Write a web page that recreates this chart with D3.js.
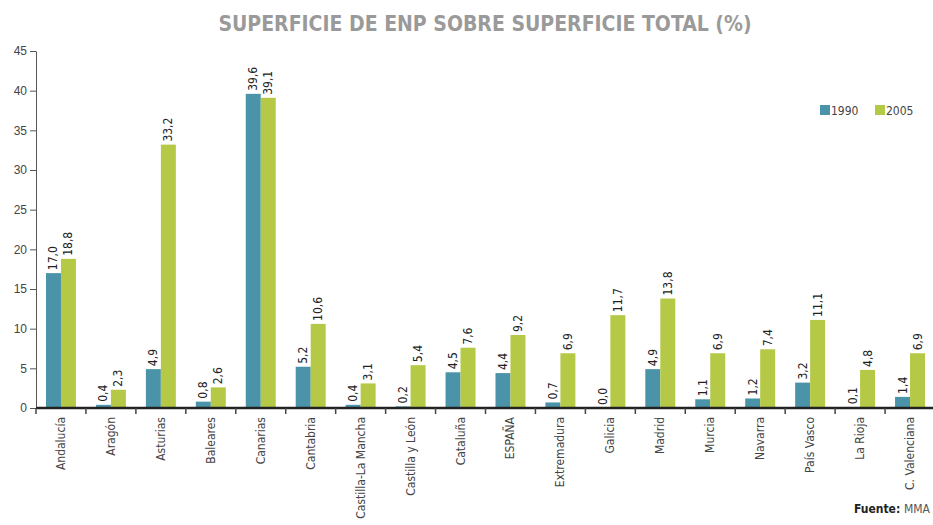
<!DOCTYPE html>
<html>
<head>
<meta charset="utf-8">
<script src="https://cdn.jsdelivr.net/npm/d3@7"></script>
<style>
  body { margin: 0; background: #fff; }
  svg { font-family: "DejaVu Sans Condensed", "Roboto", sans-serif; }
</style>
</head>
<body>
<div id="chart"></div>
<script>
const regions = ['Andalucía', 'Aragón', 'Asturias', 'Baleares', 'Canarias', 'Cantabria',
  'Castilla-La Mancha', 'Castilla y León', 'Cataluña', 'ESPAÑA', 'Extremadura', 'Galicia',
  'Madrid', 'Murcia', 'Navarra', 'País Vasco', 'La Rioja', 'C. Valenciana'];
const years = ['1990', '2005'];
const values1990 = [17.0, 0.4, 4.9, 0.8, 39.6, 5.2, 0.4, 0.2, 4.5, 4.4, 0.7, 0.0, 4.9, 1.1, 1.2, 3.2, 0.1, 1.4];
const values2005 = [18.8, 2.3, 33.2, 2.6, 39.1, 10.6, 3.1, 5.4, 7.6, 9.2, 6.9, 11.7, 13.8, 6.9, 7.4, 11.1, 4.8, 6.9];
const yTicks = [0, 5, 10, 15, 20, 25, 30, 35, 40, 45];
const colors = ['#4a93a8', '#b5c947'];

const width = 933, height = 525;
const margin = {top: 51, left: 36, right: -2, bottom: 117};

const svg = d3.select('#chart').append('svg')
  .attr('width', width)
  .attr('height', height);

const x = d3.scaleBand().domain(regions)
  .range([margin.left, width - margin.right])
  .paddingInner(0.4).paddingOuter(0.2);
const xSub = d3.scaleBand().domain(years).range([0, x.bandwidth()]);
const y = d3.scaleLinear().domain([0, 45]).range([height - margin.bottom, margin.top]);

const fmt = d => d.toFixed(1).replace('.', ',');

// title
svg.append('text')
  .attr('x', 485).attr('y', 31)
  .attr('text-anchor', 'middle')
  .attr('fill', '#9a9a9a')
  .style('font-size', '21px')
  .style('font-weight', 'bold')
  .text('SUPERFICIE DE ENP SOBRE SUPERFICIE TOTAL (%)');

// y axis
const yAxis = svg.append('g')
  .attr('transform', `translate(${margin.left},0)`)
  .call(d3.axisLeft(y).tickValues(yTicks).tickSize(6).tickSizeOuter(0));
yAxis.select('.domain').attr('stroke', '#555');
yAxis.selectAll('.tick line').attr('stroke', '#555');
yAxis.selectAll('.tick text').attr('fill', '#444').style('font-size', '12px').attr('x', -9);

// bars
const data = regions.map((r, i) => ({region: r, vals: [values1990[i], values2005[i]]}));
const groups = svg.append('g').selectAll('g').data(data).join('g')
  .attr('transform', d => `translate(${x(d.region)},0)`);

groups.selectAll('rect')
  .data(d => d.vals.map((v, j) => ({year: years[j], v, j})))
  .join('rect')
  .attr('x', d => xSub(d.year))
  .attr('y', d => y(d.v))
  .attr('width', xSub.bandwidth())
  .attr('height', d => y(0) - y(d.v))
  .attr('fill', d => colors[d.j]);

groups.selectAll('text')
  .data(d => d.vals.map((v, j) => ({year: years[j], v, j})))
  .join('text')
  .attr('transform', d => `translate(${xSub(d.year) + xSub.bandwidth() / 2 + 4},${y(d.v) - 3}) rotate(-90)`)
  .attr('fill', '#222')
  .style('font-size', '12px')
  .text(d => fmt(d.v));

// x axis
const xAxis = svg.append('g')
  .attr('transform', `translate(0,${y(0)})`);
xAxis.append('line')
  .attr('x1', margin.left).attr('x2', width)
  .attr('stroke', '#222').attr('stroke-width', 2.5);
const step = x.step();
xAxis.selectAll('.sep').data(regions).join('line')
  .attr('class', 'sep')
  .attr('x1', (d, i) => margin.left + i * step)
  .attr('x2', (d, i) => margin.left + i * step)
  .attr('y1', 0).attr('y2', 6)
  .attr('stroke', '#444').attr('stroke-width', 1.5);
xAxis.selectAll('.lab').data(regions).join('text')
  .attr('class', 'lab')
  .attr('transform', d => `translate(${x(d) + x.bandwidth() / 2 + 4},9) rotate(-90)`)
  .attr('text-anchor', 'end')
  .attr('fill', '#444')
  .style('font-size', '12px')
  .text(d => d);

// legend
const legend = svg.append('g').attr('transform', 'translate(820,105)');
years.forEach((yr, i) => {
  const g = legend.append('g').attr('transform', `translate(${i * 55},0)`);
  g.append('rect').attr('width', 10).attr('height', 10).attr('fill', colors[i]);
  g.append('text').attr('x', 11).attr('y', 10).attr('fill', '#444')
    .style('font-size', '12px').text(yr);
});

// source
const src = svg.append('text').attr('x', 930).attr('y', 513)
  .attr('text-anchor', 'end')
  .style('font-size', '12px');
src.append('tspan').attr('font-weight', 'bold').attr('fill', '#222').text('Fuente: ');
src.append('tspan').attr('fill', '#555').text('MMA');
</script>
</body>
</html>
